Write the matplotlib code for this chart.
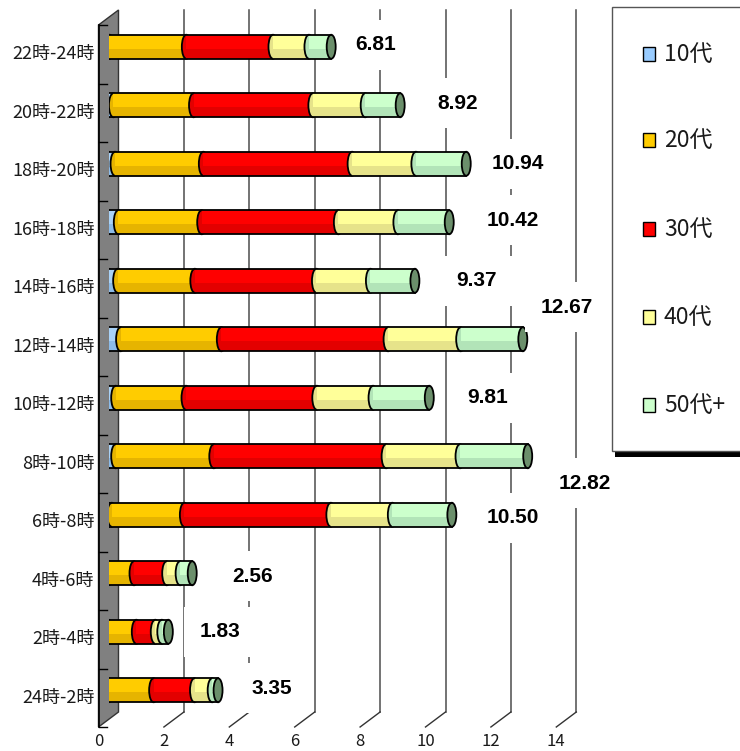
import matplotlib
matplotlib.use('Agg')
import matplotlib.pyplot as plt
from matplotlib.patches import Rectangle, Ellipse, Polygon

# ---------------- data ----------------
categories = ['24時-2時', '2時-4時', '4時-6時', '6時-8時', '8時-10時', '10時-12時',
              '12時-14時', '14時-16時', '16時-18時', '18時-20時', '20時-22時', '22時-24時']
series_names = ['10代', '20代', '30代', '40代', '50代+']
v10 = [0.00, 0.00, 0.00, 0.10, 0.22, 0.22, 0.37, 0.28, 0.30, 0.20, 0.15, 0.03]
v20 = [1.38, 0.85, 0.78, 2.22, 3.00, 2.15, 3.08, 2.36, 2.55, 2.70, 2.45, 2.35]
v30 = [1.25, 0.58, 1.00, 4.48, 5.27, 4.00, 5.10, 3.72, 4.18, 4.55, 3.65, 2.65]
v40 = [0.54, 0.20, 0.41, 1.88, 2.26, 1.72, 2.22, 1.65, 1.82, 1.95, 1.60, 1.10]
v50 = [0.18, 0.20, 0.37, 1.82, 2.07, 1.72, 1.90, 1.36, 1.57, 1.54, 1.07, 0.68]
x_ticks = [0, 2, 4, 6, 8, 10, 12, 14]

# ---------------- layout / style ----------------
W, H = 740, 751
SX = 32.7          # px per unit (x)
SY = 58.5          # px per category (y)
ORIGIN_X = 108.5   # mid-plane x=0 pixel
BOTTOM_Y = 719.5   # mid-plane bottom pixel
DX, DY = 10.0, 7.5  # depth offset (px) from mid plane to back plane
PX, PY = 1.0 / SX, 1.0 / SY
ox, oy = DX * PX, DY * PY

upper_cols = ['#a9d2f7', '#ffcc00', '#ff0000', '#ffff99', '#ccffcc']
lower_cols = ['#8cbbe8', '#e6b400', '#e30000', '#e6e38a', '#b2e4b8']
legend_cols = ['#99ccff', '#ffcc00', '#ff0000', '#ffff99', '#ccffcc']
cap_col = '#6b8f6b'
# data-label offsets in pixels (dx from bar end, dy from row centre; +dy = down)
label_offsets = [(54, -2), (52, 0), (60, 3), (61, 3), (57, 27), (58, 0),
                 (44, -32), (62, 0), (64, -2), (52, 0), (58, -2), (44, -2)]

jp = ['Noto Sans CJK JP', 'DejaVu Sans']

fig = plt.figure(figsize=(W / 100, H / 100), dpi=100)
ax = fig.add_axes([ORIGIN_X / W, (H - BOTTOM_Y) / H, 14 * SX / W, 12 * SY / H])
ax.set_xlim(0, 14)
ax.set_ylim(-0.5, 11.5)
ax.axis('off')

ylo, yhi = -0.5, 11.5

# back-plane gridlines and floor diagonals
for t in x_ticks[1:]:
    ax.plot([t + ox, t + ox], [ylo + oy, yhi + oy], color='#4d4d4d', lw=1.1,
            zorder=1, clip_on=False)
    ax.plot([t - ox, t + ox], [ylo - oy, ylo + oy], color='#333333', lw=1.0,
            zorder=1, clip_on=False)

# side wall
wall = Polygon([(-ox, ylo - oy), (-ox, yhi - oy), (ox, yhi + oy), (ox, ylo + oy)],
               closed=True, facecolor='#808080', edgecolor='#333333', lw=1.0,
               zorder=2, clip_on=False)
ax.add_patch(wall)
ax.plot([-ox, -ox], [ylo - oy, yhi - oy], color='black', lw=1.2, zorder=2, clip_on=False)

# category boundary ticks on front plane
for k in range(13):
    yb = ylo + k - oy
    ax.plot([-ox, -ox + 8 * PX], [yb, yb], color='black', lw=1.0, zorder=2, clip_on=False)

# front x tick labels
for t in x_ticks:
    ax.text(t - ox, ylo - oy - 15 * PY, str(t), ha='center', va='center',
            fontsize=12, family=jp, color='#1a1a1a', clip_on=False)

# category labels
for i, c in enumerate(categories):
    ax.text(-ox - 4 * PX, i - oy, c, ha='right', va='center', fontsize=13,
            family=jp, color='#1a1a1a', clip_on=False)

# cylinder bars
series = [v10, v20, v30, v40, v50]
bh = 24 * PY
ew = 9 * PX
for i in range(len(categories)):
    left = 0.0
    for s, vals in enumerate(series):
        w = vals[i]
        if w <= 0:
            continue
        ax.add_patch(Ellipse((left, i), ew, bh, facecolor=lower_cols[s],
                             edgecolor='black', lw=1.3, zorder=3))
        ax.add_patch(Rectangle((left, i - bh / 2), w, bh, facecolor=lower_cols[s],
                               edgecolor='none', zorder=3))
        ax.add_patch(Rectangle((left, i - bh / 2 + bh * 0.42), w, bh * 0.58,
                               facecolor=upper_cols[s], edgecolor='none', zorder=3))
        left += w
    ax.add_patch(Ellipse((left, i), ew, bh, facecolor=cap_col, edgecolor='black',
                         lw=1.3, zorder=3))
    ax.plot([0, left], [i + bh / 2, i + bh / 2], color='black', lw=1.3, zorder=3)
    ax.plot([0, left], [i - bh / 2, i - bh / 2], color='black', lw=1.3, zorder=3)
    # total label
    total = sum(v[i] for v in series)
    dxp, dyp = label_offsets[i]
    ax.annotate(f'{total:.2f}', xy=(total, i), xytext=(dxp * 0.72, -dyp * 0.72),
                textcoords='offset points', ha='center', va='center',
                fontsize=15, fontweight='bold', family='Liberation Sans',
                color='black', zorder=6, annotation_clip=False,
                bbox=dict(boxstyle='square,pad=0.75', facecolor='white',
                          edgecolor='none'))

# legend (figure coordinates)
def fx(x):
    return x / W

def fy(y):
    return 1 - y / H

ax.add_patch(Rectangle((fx(615), fy(457)), fx(140), 6 / H, transform=fig.transFigure,
                       facecolor='black', edgecolor='none', zorder=4, clip_on=False))
ax.add_patch(Rectangle((fx(612), fy(451)), fx(150), (451 - 7) / H,
                       transform=fig.transFigure, facecolor='white',
                       edgecolor='#555555', lw=1.0, zorder=4, clip_on=False))
leg_y = [54, 140, 229, 317, 405]
for k, name in enumerate(series_names):
    ax.add_patch(Rectangle((fx(643), fy(leg_y[k] + 7)), 12 / W, 14 / H,
                           transform=fig.transFigure, facecolor=legend_cols[k],
                           edgecolor='black', lw=1.0, zorder=5, clip_on=False))
    ax.text(fx(664), fy(leg_y[k]), name, transform=fig.transFigure, ha='left',
            va='center', fontsize=16.5, family=jp, color='#1a1a1a', zorder=5)

fig.savefig('out.png', dpi=100)
